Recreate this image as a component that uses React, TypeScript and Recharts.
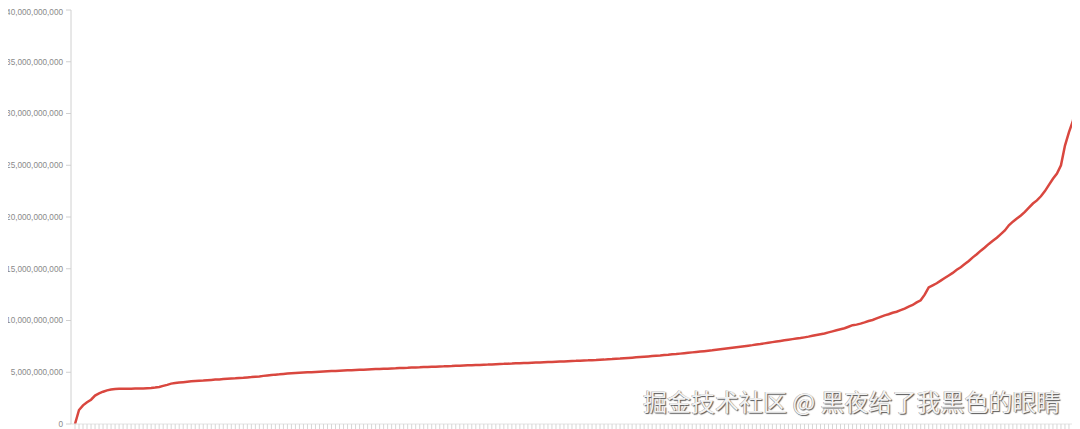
import { Line, LineChart, XAxis, YAxis } from 'recharts';

// values in billions (sorted ascending)
const values: number[] = [
  0, 1.35, 1.8, 2.1, 2.35, 2.75, 2.95, 3.12, 3.25, 3.33,
  3.38, 3.4, 3.4, 3.41, 3.41, 3.42, 3.42, 3.43, 3.45, 3.47,
  3.52, 3.58, 3.68, 3.78, 3.9, 3.96, 4.0, 4.04, 4.08, 4.12,
  4.15, 4.18, 4.2, 4.23, 4.26, 4.29, 4.31, 4.34, 4.37, 4.4,
  4.42, 4.45, 4.47, 4.5, 4.53, 4.57, 4.6, 4.65, 4.69, 4.73,
  4.77, 4.8, 4.84, 4.87, 4.9, 4.93, 4.95, 4.97, 4.99, 5.01,
  5.03, 5.05, 5.07, 5.09, 5.11, 5.13, 5.15, 5.17, 5.19, 5.2,
  5.22, 5.24, 5.25, 5.27, 5.29, 5.31, 5.32, 5.34, 5.35, 5.37,
  5.38, 5.4, 5.42, 5.43, 5.45, 5.47, 5.48, 5.5, 5.51, 5.53,
  5.54, 5.56, 5.57, 5.59, 5.6, 5.62, 5.63, 5.65, 5.67, 5.68,
  5.7, 5.71, 5.73, 5.74, 5.76, 5.78, 5.8, 5.81, 5.83, 5.84,
  5.86, 5.87, 5.89, 5.9, 5.92, 5.94, 5.95, 5.97, 5.99, 6.0,
  6.02, 6.04, 6.05, 6.07, 6.09, 6.1, 6.12, 6.14, 6.15, 6.17,
  6.18, 6.2, 6.22, 6.25, 6.27, 6.3, 6.32, 6.35, 6.38, 6.41,
  6.44, 6.47, 6.5, 6.53, 6.56, 6.59, 6.62, 6.66, 6.69, 6.73,
  6.76, 6.8, 6.84, 6.88, 6.92, 6.96, 7.0, 7.04, 7.08, 7.12,
  7.17, 7.22, 7.27, 7.32, 7.37, 7.42, 7.47, 7.52, 7.57, 7.62,
  7.68, 7.73, 7.79, 7.85, 7.91, 7.97, 8.03, 8.09, 8.15, 8.2,
  8.25, 8.3, 8.37, 8.44, 8.52, 8.6, 8.68, 8.75, 8.85, 8.95,
  9.05, 9.15, 9.25, 9.4, 9.55, 9.6, 9.7, 9.82, 9.95, 10.05,
  10.2, 10.35, 10.5, 10.6, 10.75, 10.85, 11.0, 11.15, 11.35, 11.5,
  11.75, 11.95, 12.5, 13.2, 13.4, 13.6, 13.85, 14.1, 14.35, 14.6,
  14.9, 15.15, 15.45, 15.75, 16.1, 16.4, 16.75, 17.05, 17.4, 17.7,
  18.0, 18.35, 18.7, 19.2, 19.55, 19.85, 20.15, 20.5, 20.9, 21.3,
  21.6, 22.0, 22.5, 23.1, 23.7, 24.2, 25.0, 26.9, 28.2, 29.3,
  32.0,
];

const yTicks = [0, 5, 10, 15, 20, 25, 30, 35, 40];

const data = values.map((v, i) => ({ idx: i + 1, value: v * 1e9 }));

const fmt = (v: number) => v.toLocaleString('en-US');

export default function App() {
  return (
    <div style={{ position: 'relative', width: 1080, height: 421, marginLeft: -8, overflow: 'hidden' }}>
      <LineChart width={1080} height={421} data={data} margin={{ top: 2, right: 3, left: 0, bottom: 0 }}>
        <XAxis
          dataKey="idx"
          interval={0}
          tick={() => <g />}
          height={5}
          tickSize={5}
          tickMargin={0}
          padding={{ left: 4 }}
          axisLine={{ stroke: '#e4e4e4' }}
          tickLine={{ stroke: '#d6d6d6' }}
        />
        <YAxis
          width={71}
          domain={[0, 40e9]}
          ticks={yTicks.map((t) => t * 1e9)}
          tickFormatter={fmt}
          tickSize={5}
          tickMargin={3}
          tick={{ fontSize: 8.2, fill: '#8a8a8a', fontFamily: 'Liberation Sans, Arial, sans-serif' }}
          axisLine={{ stroke: '#d0d0d0' }}
          tickLine={{ stroke: '#d0d0d0' }}
        />
        <Line
          type="linear"
          dataKey="value"
          stroke="#d9473f"
          strokeWidth={2.5}
          dot={false}
          isAnimationActive={false}
        />
      </LineChart>
      <div
        style={{
          position: 'absolute',
          left: 643,
          top: 380,
          fontSize: 24,
          lineHeight: '26px',
          fontFamily: '"Noto Sans CJK SC", sans-serif',
          color: '#f2f2f2',
          textShadow: '1px 1px 1px #555, -0.5px -0.5px 0 #999',
          whiteSpace: 'nowrap',
        }}
      >
        掘金技术社区 @ 黑夜给了我黑色的眼睛
      </div>
    </div>
  );
}
